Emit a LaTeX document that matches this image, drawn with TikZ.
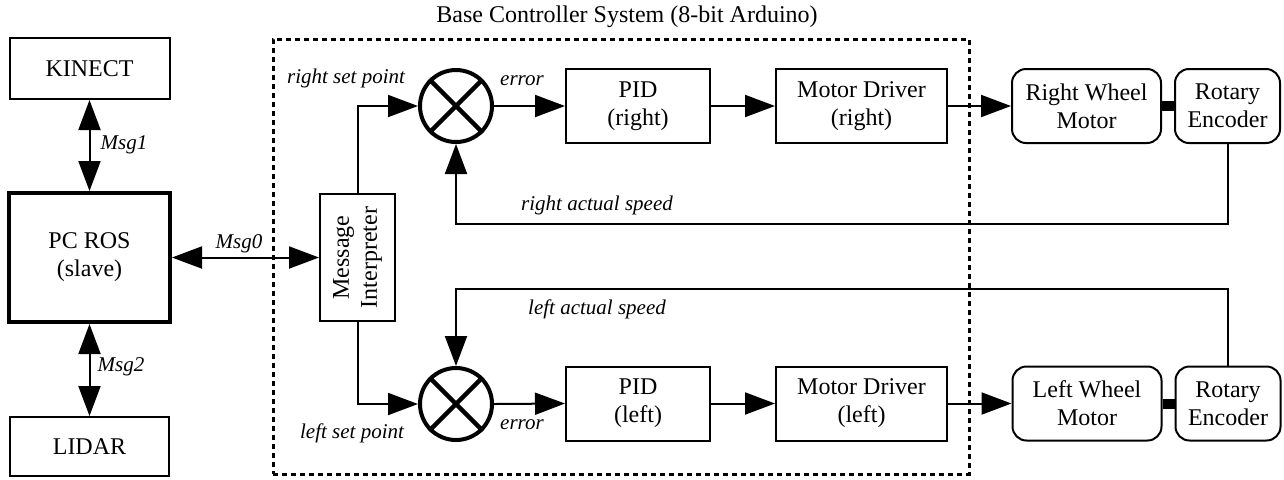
\documentclass[tikz,border=0pt]{standalone}
\usepackage{fontspec}
\setmainfont{Liberation Serif}
\usetikzlibrary{arrows.meta}
\begin{document}
\begin{tikzpicture}[x=0.5pt,y=-0.5pt,
  box/.style={draw, line width=1pt, inner sep=0pt, align=center, font=\rmfamily\fontsize{12}{14}\selectfont},
  rbox/.style={box, rounded corners=7pt},
  sumc/.style={draw, circle, line width=2pt, minimum size=36pt, inner sep=0pt},
  lbl/.style={font=\rmfamily\fontsize{10.5}{12}\selectfont\itshape, inner sep=0pt},
  conn/.style={line width=1pt, -{Triangle[length=15pt,width=11pt]}},
  bconn/.style={line width=1pt, {Triangle[length=15pt,width=11pt]}-{Triangle[length=15pt,width=11pt]}},
  xline/.style={line width=2.2pt},
]
\useasboundingbox (0,0) rectangle (1284,479);

% system boundary
\node[draw, line width=1.5pt, dash pattern=on 2.5pt off 2pt, minimum width=348pt, minimum height=217.5pt, inner sep=0pt] (sys) at (621,256.5) {};
\node[font=\rmfamily\fontsize{12}{14}\selectfont, inner sep=0pt] (title) at (627,17) {Base Controller System (8-bit Arduino)};

% left column
\node[box, minimum width=80pt, minimum height=30.5pt] (kinect) at (89.5,68.5) {KINECT};
\node[box, line width=2pt, minimum width=80.5pt, minimum height=64.5pt] (pcros) at (89.5,257.5) {PC ROS\\(slave)};
\node[box, minimum width=79.5pt, minimum height=29.5pt] (lidar) at (89.5,446.5) {LIDAR};

% message interpreter
\node[box, rotate=90, minimum width=63.5pt, minimum height=37.5pt] (mi) at (357.5,257.5) {Message\\Interpreter};

% summing junctions
\node[sumc] (sumR) at (456,106) {};
\node[sumc] (sumL) at (456,404) {};
\draw[xline] (sumR.45) -- (sumR.225) (sumR.135) -- (sumR.-45);
\draw[xline] (sumL.45) -- (sumL.225) (sumL.135) -- (sumL.-45);

% right chain
\node[box, minimum width=72pt, minimum height=37pt] (pidR) at (638,106) {PID\\(right)};
\node[box, minimum width=85.5pt, minimum height=37pt] (mdR) at (861.5,106) {Motor Driver\\(right)};
\node[rbox, minimum width=74.5pt, minimum height=37pt] (rwm) at (1086.5,106) {Right Wheel\\Motor};
\node[rbox, minimum width=52.5pt, minimum height=37pt] (reR) at (1227.5,106) {Rotary\\Encoder};

% left chain
\node[box, minimum width=72pt, minimum height=37pt] (pidL) at (638,403.5) {PID\\(left)};
\node[box, minimum width=85.5pt, minimum height=37pt] (mdL) at (861.5,403.5) {Motor Driver\\(left)};
\node[rbox, minimum width=74.5pt, minimum height=37pt] (lwm) at (1087,403.5) {Left Wheel\\Motor};
\node[rbox, minimum width=52.5pt, minimum height=37pt] (reL) at (1228,403.5) {Rotary\\Encoder};

% connectors on the left
\draw[bconn] (kinect.south) -- (pcros.north);
\draw[bconn] (pcros.south) -- (lidar.north);
\draw[bconn] (pcros.east) -- (mi.north);
\node[lbl] (m1) at (124,145) {Msg1};
\node[lbl] (m2) at (121,367) {Msg2};
\node[lbl] (m0) at (239,244) {Msg0};

% set points
\draw[conn] (mi.east) |- (sumR.west);
\draw[conn] (mi.west) |- (sumL.west);
\node[lbl] (rsp) at (346,78) {right set point};
\node[lbl] (lsp) at (352,433) {left set point};

% forward paths
\draw[conn] (sumR.east) -- (pidR.west);
\draw[conn] (pidR.east) -- (mdR.west);
\draw[conn] (mdR.east) -- (rwm.west);
\draw[conn] (sumL.east) -- (pidL.west);
\draw[conn] (pidL.east) -- (mdL.west);
\draw[conn] (mdL.east) -- (lwm.west);
\node[lbl] (errR) at (522,81) {error};
\node[lbl] (errL) at (522,425) {error};

% shafts
\draw[line width=5pt] (rwm.east) -- (reR.west);
\draw[line width=5pt] (lwm.east) -- (reL.west);

% feedback
\coordinate (fbR) at (1227.5,224);
\coordinate (fbL) at (1228,289);
\draw[conn] (reR.south) -- (fbR) -| (sumR.south);
\draw[conn] (reL.north) -- (fbL) -| (sumL.north);
\node[lbl] (rasp) at (597,205) {right actual speed};
\node[lbl] (lasp) at (597,309) {left actual speed};
\end{tikzpicture}
\end{document}
